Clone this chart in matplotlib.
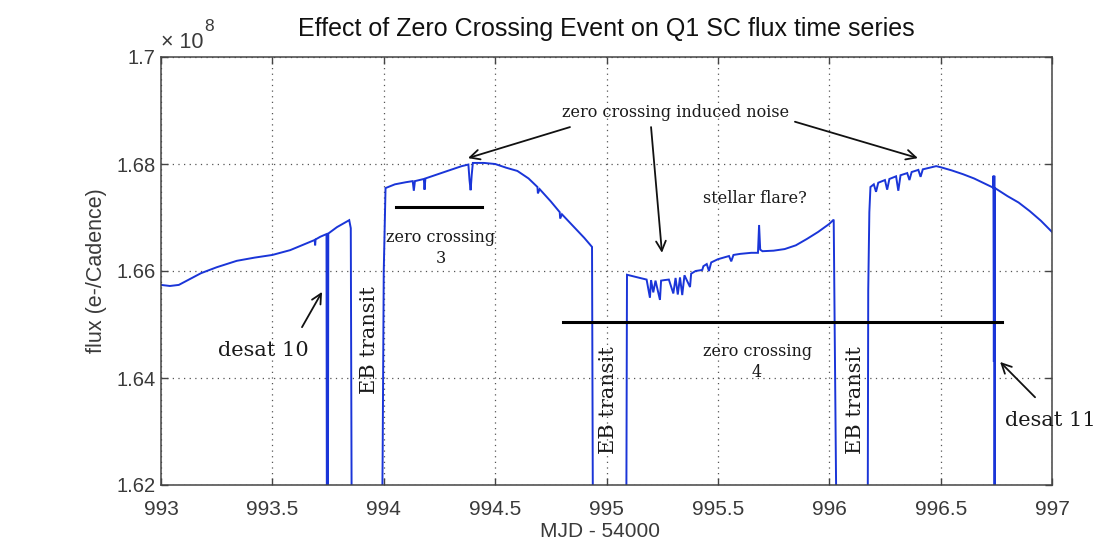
import matplotlib
matplotlib.use("Agg")
import matplotlib.pyplot as plt
from matplotlib.ticker import FuncFormatter

# ---------------- data (MJD - 54000, flux in 1e8 e-/cadence) ----------------
seg1_t = [993.00, 993.04, 993.08, 993.13, 993.18, 993.25, 993.34, 993.42, 993.50,
          993.58, 993.655, 993.69, 993.692, 993.694, 993.715, 993.743, 993.745,
          993.747, 993.749, 993.751, 993.79, 993.845, 993.852, 993.857]
seg1_f = [1.6574, 1.6572, 1.6574, 1.6585, 1.6596, 1.6607, 1.6619, 1.6625, 1.6630,
          1.6639, 1.6652, 1.6658, 1.6648, 1.6659, 1.6664, 1.6669, 1.6000,
          1.6669, 1.6000, 1.6670, 1.6682, 1.6695, 1.6680, 1.6000]

eb1_t = [993.99, 993.995, 994.0, 994.008]
eb1_f = [1.6000, 1.6250, 1.6600, 1.6755]

seg2_t = [994.05, 994.10, 994.13, 994.135, 994.14, 994.18, 994.183, 994.187,
          994.25, 994.30, 994.35, 994.38, 994.385, 994.39, 994.395, 994.40,
          994.45, 994.50, 994.55, 994.60, 994.65, 994.69, 994.692, 994.70,
          994.75, 994.79, 994.792, 994.80, 994.85, 994.90, 994.935, 994.94]
seg2_f = [1.6762, 1.6766, 1.6768, 1.6750, 1.6768, 1.6772, 1.6752, 1.6773,
          1.6782, 1.6789, 1.6796, 1.6799, 1.6770, 1.6751, 1.6780, 1.6802,
          1.6802, 1.6800, 1.6793, 1.6787, 1.6773, 1.6757, 1.6745, 1.6753,
          1.6730, 1.6710, 1.6698, 1.6706, 1.6684, 1.6662, 1.6645, 1.6000]

eb2_t = [995.088, 995.092]
eb2_f = [1.6000, 1.6593]

seg3_t = [995.12, 995.15, 995.18, 995.195, 995.20, 995.21, 995.22, 995.24,
          995.245, 995.26, 995.28, 995.30, 995.31, 995.32, 995.33, 995.34,
          995.35, 995.375, 995.38, 995.40, 995.43, 995.435, 995.45, 995.46,
          995.47, 995.50, 995.55, 995.56, 995.57, 995.60, 995.65, 995.68,
          995.685, 995.69, 995.70, 995.75, 995.80, 995.85, 995.90, 995.95,
          996.00, 996.02, 996.025, 996.035]
seg3_f = [1.6590, 1.6587, 1.6584, 1.6550, 1.6583, 1.6560, 1.6582, 1.6546,
          1.6582, 1.6583, 1.6584, 1.6558, 1.6587, 1.6556, 1.6588, 1.6555,
          1.6592, 1.6570, 1.6595, 1.6600, 1.6602, 1.6609, 1.6613, 1.6600,
          1.6616, 1.6622, 1.6628, 1.6618, 1.6630, 1.6632, 1.6634, 1.6634,
          1.6686, 1.6640, 1.6637, 1.6638, 1.6641, 1.6648, 1.6660, 1.6673,
          1.6688, 1.6696, 1.6470, 1.6000]

eb3_t = [996.172, 996.175, 996.18, 996.185]
eb3_f = [1.6000, 1.6564, 1.6710, 1.6757]

seg4_t = [996.20, 996.21, 996.22, 996.25, 996.26, 996.27, 996.30, 996.31,
          996.32, 996.35, 996.36, 996.37, 996.40, 996.41, 996.42, 996.45,
          996.48, 996.50, 996.55, 996.60, 996.65, 996.70, 996.735, 996.737,
          996.739, 996.741, 996.742, 996.744, 996.80, 996.85, 996.90, 996.95,
          997.00]
seg4_f = [1.6762, 1.6748, 1.6765, 1.6770, 1.6752, 1.6772, 1.6777, 1.6750,
          1.6779, 1.6783, 1.6770, 1.6785, 1.6789, 1.6776, 1.6790, 1.6793,
          1.6796, 1.6794, 1.6788, 1.6781, 1.6773, 1.6763, 1.6756, 1.6778,
          1.6430, 1.6778, 1.6000, 1.6755, 1.6740, 1.6728, 1.6712, 1.6694,
          1.6673]

x_ticks = [993, 993.5, 994, 994.5, 995, 995.5, 996, 996.5, 997]
y_ticks = [1.62, 1.64, 1.66, 1.68, 1.70]

mjd = seg1_t + eb1_t + seg2_t + eb2_t + seg3_t + eb3_t + seg4_t
flux = seg1_f + eb1_f + seg2_f + eb2_f + seg3_f + eb3_f + seg4_f

# ---------------- figure ----------------
fig = plt.figure(figsize=(11, 5.43), dpi=100)
ax = fig.add_axes([161 / 1100, 1 - 485 / 543, 891 / 1100, 428 / 543])

ax.plot(mjd, flux, color='#1a35d8', lw=1.4, solid_joinstyle='miter')

ax.set_xlim(993, 997)
ax.set_ylim(1.62, 1.70)
ax.set_xticks(x_ticks)
ax.set_yticks(y_ticks)
ax.xaxis.set_major_formatter(FuncFormatter(lambda v, p: f"{v:g}"))
ax.yaxis.set_major_formatter(FuncFormatter(lambda v, p: f"{v:g}"))

tick_font = 'Liberation Sans'
ax.tick_params(direction='in', length=5, width=1, colors='#444', top=True, right=True,
               labelcolor='#3a3a3a')
ax.tick_params(axis='x', pad=11, labelsize=15)
ax.tick_params(axis='y', pad=4, labelsize=14.5)
for lbl in ax.get_xticklabels() + ax.get_yticklabels():
    lbl.set_family(tick_font)

for s in ax.spines.values():
    s.set_color('#444')
    s.set_linewidth(1.1)

ax.grid(True, linestyle=(0, (1, 3.5)), color='#555', lw=0.9)

ax.set_title('Effect of Zero Crossing Event on Q1 SC flux time series',
             fontsize=18, family=tick_font, color='#111', pad=15)
ax.set_xlabel('MJD - 54000', fontsize=15, family=tick_font, color='#3a3a3a')
ax.xaxis.set_label_coords(0.4927, -0.086)
ax.set_ylabel('flux (e-/Cadence)', fontsize=15.5, family=tick_font, color='#3a3a3a')
ax.yaxis.set_label_coords(-0.0606, 0.5)

ax.text(0.0, 1.021, '× 10', transform=ax.transAxes, fontsize=15.5,
        family=tick_font, color='#3a3a3a', ha='left', va='baseline')
ax.text(0.049, 1.060, '8', transform=ax.transAxes, fontsize=12.5,
        family=tick_font, color='#3a3a3a', ha='left', va='baseline')

# ---------------- annotations ----------------
serif = 'DejaVu Serif'
tcol = '#1a1a1a'
arrow_kw = dict(arrowstyle='->,head_length=0.7,head_width=0.35', color='#111', lw=1.3,
                shrinkA=0, shrinkB=0)

ax.text(995.312, 1.6897, 'zero crossing induced noise', fontsize=11.5, family=serif,
        color=tcol, ha='center', va='center')
ax.annotate('', xy=(994.378, 1.6811), xytext=(994.836, 1.6869), arrowprops=arrow_kw)
ax.annotate('', xy=(995.249, 1.6634), xytext=(995.200, 1.6869), arrowprops=arrow_kw)
ax.annotate('', xy=(996.398, 1.6811), xytext=(995.846, 1.6879), arrowprops=arrow_kw)

ax.text(995.667, 1.6736, 'stellar flare?', fontsize=11.5, family=serif,
        color=tcol, ha='center', va='center')

ax.plot([994.055, 994.441], [1.672, 1.672], color='black', lw=2.2)
ax.text(994.257, 1.6643, 'zero crossing\n3', fontsize=11.5, family=serif,
        color=tcol, ha='center', va='center', linespacing=1.35)

ax.plot([994.805, 996.775], [1.6505, 1.6505], color='black', lw=2.2)
ax.text(995.676, 1.6430, 'zero crossing\n4', fontsize=11.5, family=serif,
        color=tcol, ha='center', va='center', linespacing=1.35)

ax.text(993.458, 1.6452, 'desat 10', fontsize=15, family=serif, color=tcol,
        ha='center', va='center')
ax.annotate('', xy=(993.723, 1.6561), xytext=(993.633, 1.6495), arrowprops=arrow_kw)

ax.text(996.991, 1.6320, 'desat 11', fontsize=15, family=serif, color=tcol,
        ha='center', va='center', clip_on=False)
ax.annotate('', xy=(996.767, 1.6430), xytext=(996.924, 1.6364), arrowprops=arrow_kw)

for xt, yt in [(993.935, 1.6471), (995.011, 1.6359), (996.116, 1.6359)]:
    ax.text(xt, yt, 'EB transit', fontsize=15, family=serif, color=tcol,
            rotation=90, ha='center', va='center')

fig.savefig('out.png', dpi=100)
